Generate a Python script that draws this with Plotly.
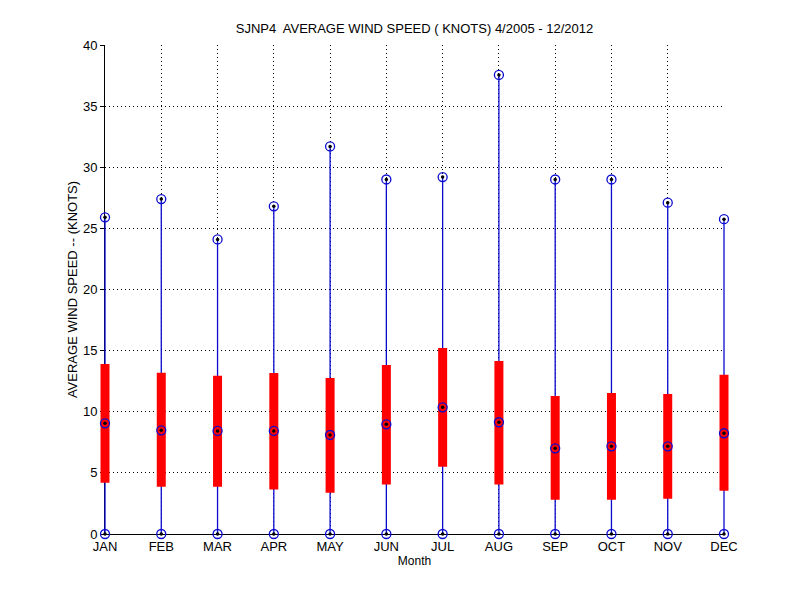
import plotly.graph_objects as go

# valeurs (noeuds)
months   = ["JAN", "FEB", "MAR", "APR", "MAY", "JUN",
            "JUL", "AUG", "SEP", "OCT", "NOV", "DEC"]
month_no = [1, 2, 3, 4, 5, 6, 7, 8, 9, 10, 11, 12]
wmin     = [0, 0, 0, 0, 0, 0, 0, 0, 0, 0, 0, 0]
wmax     = [25.9, 27.4, 24.1, 26.8, 31.7, 29.0, 29.2, 37.55, 29.0, 29.0, 27.1, 25.75]
q_low    = [4.2, 3.87, 3.87, 3.63, 3.38, 4.04, 5.51, 4.04, 2.81, 2.81, 2.89, 3.54]
q_high   = [13.9, 13.2, 12.95, 13.17, 12.76, 13.82, 15.21, 14.15, 11.29, 11.53, 11.45, 13.03]
wmed     = [9.05, 8.48, 8.43, 8.43, 8.1, 8.97, 10.36, 9.14, 7.01, 7.17, 7.17, 8.24]
yticks   = [0, 5, 10, 15, 20, 25, 30, 35, 40]

FONT = "Liberation Sans"
BLUE = "#0A0AD0"

W, H = 800, 600
ML, MR, MT, MB = 95, 66, 45, 66
PAD = 10  # px en plus de chaque cote pour ne pas couper les barres de JAN/DEC
plot_w = W - ML - MR
ppu = (plot_w - 2 * PAD) / (month_no[-1] - month_no[0])
x2_range = [month_no[0] - PAD / ppu, month_no[-1] + PAD / ppu]


def segments(xs, lo, hi):
    sx, sy = [], []
    for x, a, b in zip(xs, lo, hi):
        sx += [x, x, None]
        sy += [a, b, None]
    return sx, sy


wx, wy = segments(month_no, wmin, wmax)
bx, by = segments(month_no, q_low, q_high)

pts_x = month_no * 3
pts_y = wmin + wmed + wmax

fig = go.Figure()
# trace invisible : fait exister le sous-graphe xy (axes + grille)
fig.add_trace(go.Scatter(x=month_no, y=wmin, mode="markers",
                         marker=dict(opacity=0), hoverinfo="skip"))
# le reste sur x2/y2, meme echelle mais zone un peu plus large
fig.add_trace(go.Scatter(x=wx, y=wy, mode="lines", xaxis="x2", yaxis="y2",
                         line=dict(color=BLUE, width=1.3), hoverinfo="skip"))
fig.add_trace(go.Scatter(x=bx, y=by, mode="lines", xaxis="x2", yaxis="y2",
                         line=dict(color="#FF0000", width=9), hoverinfo="skip"))
fig.add_trace(go.Scatter(x=pts_x, y=pts_y, mode="markers", xaxis="x2", yaxis="y2",
                         cliponaxis=False,
                         marker=dict(symbol="circle-open", size=9, color=BLUE,
                                     line=dict(width=1.3, color=BLUE))))
fig.add_trace(go.Scatter(x=pts_x, y=pts_y, mode="markers", xaxis="x2", yaxis="y2",
                         cliponaxis=False,
                         marker=dict(symbol="circle", size=3.5, color="black")))

fig.update_layout(
    width=W, height=H,
    margin=dict(l=ML, r=MR, t=MT, b=MB),
    paper_bgcolor="white", plot_bgcolor="rgba(0,0,0,0)",
    showlegend=False,
    font=dict(family=FONT, size=13, color="black"),
    title=dict(text="SJNP4  AVERAGE WIND SPEED ( KNOTS) 4/2005 - 12/2012",
               x=(ML + plot_w / 2) / W, xanchor="center",
               y=1 - 28 / H, yanchor="middle", font=dict(size=13)),
    xaxis=dict(
        domain=[PAD / plot_w, 1 - PAD / plot_w],
        range=[month_no[0], month_no[-1]],
        tickmode="array", tickvals=month_no, ticktext=months,
        showline=True, linecolor="black", linewidth=1, mirror=False,
        showgrid=True, gridcolor="black", gridwidth=1, griddash="1px,3px",
        zeroline=False, ticks="",
        title=dict(text="Month", standoff=4, font=dict(size=12)),
        anchor="y",
    ),
    yaxis=dict(
        range=[0, 40],
        tickmode="array", tickvals=yticks,
        showline=True, linecolor="black", linewidth=1, mirror=False,
        showgrid=True, gridcolor="black", gridwidth=1, griddash="1px,3px",
        zeroline=False, ticks="outside", ticklen=4, tickcolor="black",
        title=dict(text="AVERAGE WIND SPEED -- (KNOTS)", standoff=2, font=dict(size=13)),
        anchor="x",
    ),
    xaxis2=dict(domain=[0, 1], range=x2_range, visible=False, anchor="y2"),
    yaxis2=dict(domain=[0, 1], range=[0, 40], visible=False, anchor="x2"),
)

# la page a une marge de 8px par defaut : on la retire
fig.write_html("out.html", config={"displayModeBar": False},
               post_script="document.body.style.margin='0';")
